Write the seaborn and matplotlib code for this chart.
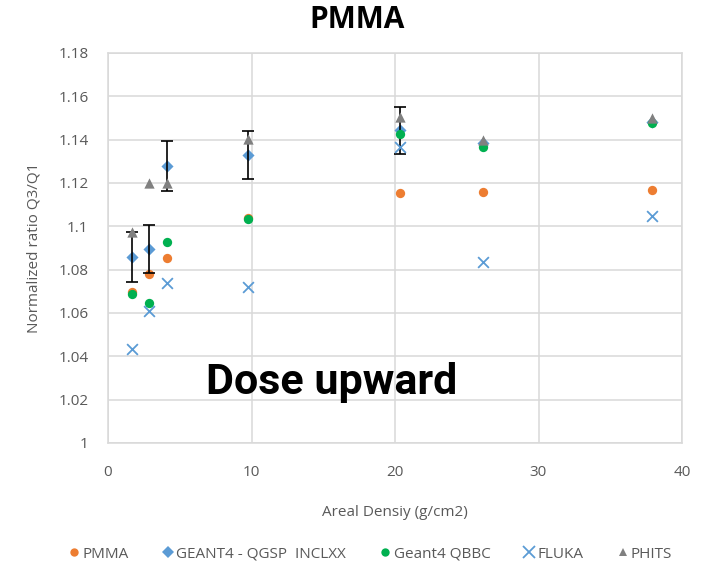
import matplotlib
matplotlib.use("Agg")
import matplotlib.pyplot as plt
import seaborn as sns
import pandas as pd
import numpy as np

x_vals = [1.67, 2.86, 4.11, 9.76, 20.35, 26.13, 37.9]
pmma = [1.0697, 1.078, 1.0855, 1.1038, 1.1153, 1.1157, 1.1168]
geant4_inclxx = [1.0858, 1.0895, 1.1278, 1.1328, 1.1443, 1.1385, 1.148]
geant4_inclxx_err = [0.0115, 0.011, 0.0115, 0.011, 0.011, 0.0, 0.0]
geant4_qbbc = [1.0688, 1.0648, 1.0928, 1.1036, 1.1425, 1.1368, 1.1477]
fluka = [1.0434, 1.0609, 1.0738, 1.0722, 1.1366, 1.0834, 1.1049]
phits = [1.0974, 1.1202, 1.1202, 1.1403, 1.1505, 1.1400, 1.1502]

series_names = ["PMMA", "GEANT4 - QGSP  INCLXX", "Geant4 QBBC", "FLUKA", "PHITS"]
x_ticks = [0, 10, 20, 30, 40]
y_ticks = [1, 1.02, 1.04, 1.06, 1.08, 1.1, 1.12, 1.14, 1.16, 1.18]
y_tick_labels = ["1", "1.02", "1.04", "1.06", "1.08", "1.1", "1.12", "1.14", "1.16", "1.18"]

sns.set_theme(style="white")
plt.rcParams['font.family'] = ['Open Sans', 'DejaVu Sans']

fig = plt.figure(figsize=(7.07, 5.62), dpi=100)
ax = fig.add_axes([108/707, 1-443/562, (682-108)/707, (443-53)/562])

df = pd.DataFrame({
    "x": x_vals * 5,
    "y": pmma + geant4_inclxx + geant4_qbbc + fluka + phits,
    "series": sum([[n] * len(x_vals) for n in series_names], []),
})

colors = {"PMMA": "#ED7D31", "GEANT4 - QGSP  INCLXX": "#5B9BD5",
          "Geant4 QBBC": "#00B050", "FLUKA": "#5B9BD5", "PHITS": "#808080"}
markers = {"PMMA": "o", "GEANT4 - QGSP  INCLXX": "D", "Geant4 QBBC": "o",
           "FLUKA": "x", "PHITS": "^"}
sizes = {"PMMA": 45, "GEANT4 - QGSP  INCLXX": 38, "Geant4 QBBC": 45,
         "FLUKA": 60, "PHITS": 55}

handles = []
for i, name in enumerate(series_names):
    sub = df[df.series == name]
    if name == "FLUKA":
        sns.scatterplot(data=sub, x="x", y="y", ax=ax, marker="x", color=colors[name],
                        s=sizes[name], linewidth=1.3, zorder=3 + i, legend=False)
    else:
        sns.scatterplot(data=sub, x="x", y="y", ax=ax, marker=markers[name], color=colors[name],
                        s=sizes[name], linewidth=0, zorder=3 + i, legend=False)
    if name == "GEANT4 - QGSP  INCLXX":
        err = np.array(geant4_inclxx_err)
        m = err > 0
        ax.errorbar(np.array(x_vals)[m], np.array(geant4_inclxx)[m], yerr=err[m], fmt="none",
                    ecolor="black", elinewidth=1.2, capsize=4, capthick=1.2, zorder=3 + i)
    handles.append(plt.Line2D([], [], linestyle="none", marker=markers[name],
                              color=colors[name], markersize=6 if name != "FLUKA" else 8,
                              markeredgewidth=1.3 if name == "FLUKA" else 0, label=name))

ax.set_xlim(0, 40)
ax.set_ylim(1.0, 1.18)
ax.set_xticks(x_ticks)
ax.set_yticks(y_ticks)
ax.set_yticklabels(y_tick_labels)
ax.grid(True, color="#d9d9d9", linewidth=1.1)
for s in ax.spines.values():
    s.set_color("#d9d9d9")
    s.set_linewidth(1.1)
ax.tick_params(axis="x", colors="#595959", labelsize=11, length=0, pad=16)
ax.tick_params(axis="y", colors="#595959", labelsize=11, length=0, pad=14)
ax.set_xlabel("Areal Densiy (g/cm2)", color="#595959", fontsize=11, labelpad=18)
ax.set_ylabel("Normalized ratio Q3/Q1", color="#595959", fontsize=11, labelpad=12)

fig.text(357/707, 1-20/562, "PMMA", ha="center", va="center", fontsize=21.5,
         fontweight="bold", family="Open Sans", color="black")
ax.text(0.389, 0.156, "Dose upward", transform=ax.transAxes, ha="center", va="center",
        fontsize=31, fontweight="bold", family="Roboto", color="black", zorder=10)

fig.legend(handles=handles, loc="center", bbox_to_anchor=(0.52, 1-554/562), ncol=5,
           frameon=False, fontsize=11, handletextpad=-0.2, columnspacing=1.8,
           handlelength=1.5, labelcolor="#595959")

fig.savefig("out.png", dpi=100)
